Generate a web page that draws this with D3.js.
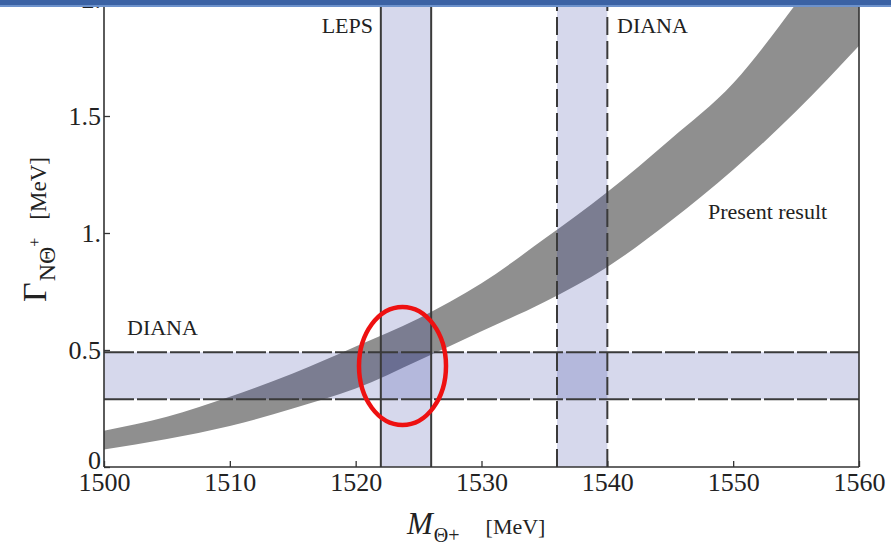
<!DOCTYPE html>
<html><head><meta charset="utf-8">
<script src="https://cdn.jsdelivr.net/npm/d3@7"></script>
<style>body{margin:0;background:#fff}svg{display:block}</style>
</head><body>
<svg id="c" width="891" height="544"></svg>
<script>
// Data
const massGrid   = [1500,1505,1510,1515,1520,1525,1530,1535,1540,1545,1550,1555,1560];
const widthUpper = [0.155,0.215,0.30,0.40,0.515,0.635,0.785,0.975,1.175,1.40,1.64,1.98,2.35];
const widthLower = [0.075,0.12,0.175,0.25,0.335,0.455,0.58,0.705,0.855,1.05,1.27,1.52,1.80];
const lepsMass   = [1522,1526];
const dianaMass  = [1536,1540];
const dianaWidth = [0.29,0.49];
const xTicks = [1500,1510,1520,1530,1540,1550,1560];
const yTicks = [0,0.5,1,1.5,2];
const yTickLabels = ["0","0.5","1.","1.5","2."];

const svg = d3.select("#c");
const x = d3.scaleLinear().domain([1500,1560]).range([104,859]);
const y = d3.scaleLinear().domain([0,2]).range([467,-1]);
const serif = "'Liberation Serif','Times New Roman',serif";
const lineCol = "#3a3a3a";

svg.append("defs").append("clipPath").attr("id","clip")
  .append("rect").attr("x",x(1500)).attr("y",y(2)).attr("width",x(1560)-x(1500)).attr("height",y(0)-y(2));

const plot = svg.append("g").attr("clip-path","url(#clip)");

// Present result band
const band = massGrid.map((m,i)=>({m, lo:widthLower[i], hi:widthUpper[i]}));
plot.append("path").datum(band)
  .attr("fill","#8f8f8f")
  .attr("d", d3.area().curve(d3.curveMonotoneX)
    .x(d=>x(d.m)).y0(d=>y(d.lo)).y1(d=>y(d.hi)));

const lav = "rgba(36,47,154,0.19)";
// LEPS vertical band
plot.append("rect").attr("x",x(lepsMass[0])).attr("width",x(lepsMass[1])-x(lepsMass[0]))
  .attr("y",y(2)).attr("height",y(0)-y(2)).attr("fill",lav);
// DIANA vertical band
plot.append("rect").attr("x",x(dianaMass[0])).attr("width",x(dianaMass[1])-x(dianaMass[0]))
  .attr("y",y(2)).attr("height",y(0)-y(2)).attr("fill",lav);
// DIANA horizontal band
plot.append("rect").attr("x",x(1500)).attr("width",x(1560)-x(1500))
  .attr("y",y(dianaWidth[1])).attr("height",y(dianaWidth[0])-y(dianaWidth[1])).attr("fill",lav);

// lines
lepsMass.forEach(m=>{
  plot.append("line").attr("x1",x(m)).attr("x2",x(m)).attr("y1",y(2)).attr("y2",y(0))
    .attr("stroke",lineCol).attr("stroke-width",2);
});
dianaMass.forEach(m=>{
  plot.append("line").attr("x1",x(m)).attr("x2",x(m)).attr("y1",y(0)).attr("y2",y(2))
    .attr("stroke",lineCol).attr("stroke-width",2).attr("stroke-dasharray","18,6");
});
dianaWidth.forEach(w=>{
  plot.append("line").attr("x1",x(1500)).attr("x2",x(1560)).attr("y1",y(w)).attr("y2",y(w))
    .attr("stroke",lineCol).attr("stroke-width",2).attr("stroke-dasharray","30,3");
});

// axes frame
const ax = svg.append("g").attr("stroke","#333").attr("stroke-width",1.6);
ax.append("line").attr("x1",x(1500)).attr("x2",x(1500)).attr("y1",y(2)).attr("y2",y(0));
ax.append("line").attr("x1",x(1560)).attr("x2",x(1560)).attr("y1",y(2)).attr("y2",y(0));
ax.append("line").attr("x1",x(1500)).attr("x2",x(1560)).attr("y1",y(0)).attr("y2",y(0));

// bottom axis ticks (inward)
const xAxis = d3.axisBottom(x).tickValues(xTicks).tickSizeInner(-6).tickSizeOuter(0).tickPadding(12).tickFormat(d3.format("d"));
const gx = svg.append("g").attr("transform",`translate(0,${y(0)})`).call(xAxis);
gx.select(".domain").remove();
gx.selectAll(".tick line").attr("stroke","#333").attr("stroke-width",1.3);
gx.selectAll(".tick text").attr("font-family",serif).attr("font-size",26).attr("fill","#222")
  .attr("dy","0.55em").attr("y",10);

// left axis ticks (inward)
const yAxis = d3.axisLeft(y).tickValues(yTicks).tickSizeInner(-6).tickSizeOuter(0).tickPadding(4)
  .tickFormat((d,i)=>yTickLabels[i]);
const gy = svg.append("g").attr("transform",`translate(${x(1500)},0)`).call(yAxis);
gy.select(".domain").remove();
gy.selectAll(".tick line").attr("stroke","#333").attr("stroke-width",1.3);
gy.selectAll(".tick text").attr("font-family",serif).attr("font-size",26).attr("fill","#222")
  .attr("x",-3).attr("dy",(d)=> d===0 ? "0.05em" : "0.33em");

// labels
const lab = (t,xx,yy,fs,anchor)=>svg.append("text").attr("x",xx).attr("y",yy).attr("font-family",serif)
  .attr("font-size",fs).attr("fill","#222").attr("text-anchor",anchor||"start").text(t);
lab("LEPS",373,33,22,"end");
lab("DIANA",617,33,22);
lab("Present result",708,219,22);
lab("DIANA",127,335,22);

// x title
const xt = svg.append("text").attr("x",407).attr("y",534).attr("font-family",serif).attr("fill","#222");
xt.append("tspan").attr("font-style","italic").attr("font-size",31).text("M");
xt.append("tspan").attr("font-size",20).attr("dy",8).attr("dx",1).text("Θ+");
xt.append("tspan").attr("font-size",22).attr("dy",-8).attr("dx",26).text("[MeV]");

// y title
const yt = svg.append("text").attr("transform","translate(46,302) rotate(-90)")
  .attr("font-family",serif).attr("fill","#222");
yt.append("tspan").attr("font-size",34).text("Γ");
yt.append("tspan").attr("font-size",24).attr("dy",9).attr("dx",1).text("NΘ");
yt.append("tspan").attr("font-size",16).attr("dy",-15).text("+");
yt.append("tspan").attr("font-size",23).attr("dy",6).attr("dx",18).text("[MeV]");

// red ellipse
svg.append("ellipse").attr("cx",402.5).attr("cy",366).attr("rx",43.5).attr("ry",59)
  .attr("fill","none").attr("stroke","#ee1111").attr("stroke-width",4.5);

// header bar
svg.append("rect").attr("x",0).attr("y",0).attr("width",891).attr("height",5).attr("fill","#3b62a4");
svg.append("rect").attr("x",0).attr("y",5).attr("width",891).attr("height",2).attr("fill","#6d92cc");
</script>
</body></html>
